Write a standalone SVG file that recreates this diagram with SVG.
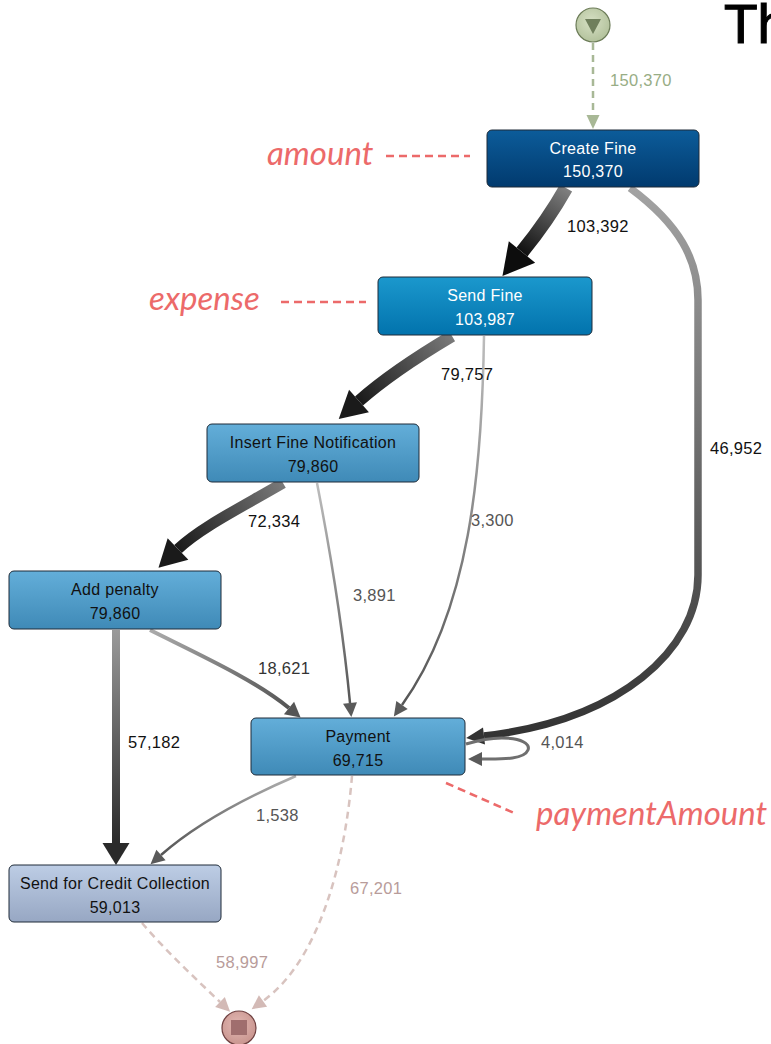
<svg xmlns="http://www.w3.org/2000/svg" width="771" height="1044" viewBox="0 0 771 1044">
<style>
.node rect{stroke:#1e2b38;stroke-width:1}
.nt{font-family:"Liberation Sans",Arial,sans-serif;font-size:16px;letter-spacing:0.3px;text-anchor:middle}
.w{fill:#ffffff}
.d{fill:#111111}
.lbl{font-family:"Liberation Sans",Arial,sans-serif;font-size:16.5px;letter-spacing:0.3px}
.ann{font-family:Lato,"Open Sans",sans-serif;font-style:italic;font-size:33px;fill:#ec6a6a}
.annl{stroke:#ec6a6a;stroke-width:2.5;stroke-dasharray:8,5;fill:none}
.e{fill:none}
</style>
<defs>
<linearGradient id="nCreate" x1="0" y1="0" x2="0" y2="1"><stop offset="0" stop-color="#0c5c9a"/><stop offset="1" stop-color="#013a6e"/></linearGradient>
<linearGradient id="nSend" x1="0" y1="0" x2="0" y2="1"><stop offset="0" stop-color="#1b98cd"/><stop offset="1" stop-color="#0273ad"/></linearGradient>
<linearGradient id="nMid" x1="0" y1="0" x2="0" y2="1"><stop offset="0" stop-color="#63aed9"/><stop offset="1" stop-color="#3f8ab7"/></linearGradient>
<linearGradient id="nCredit" x1="0" y1="0" x2="0" y2="1"><stop offset="0" stop-color="#bdcde5"/><stop offset="1" stop-color="#97a7c3"/></linearGradient>
<radialGradient id="gStart" cx="0.45" cy="0.4" r="0.6"><stop offset="0" stop-color="#d6e0c4"/><stop offset="1" stop-color="#b3c29c"/></radialGradient>
<radialGradient id="gEnd" cx="0.45" cy="0.4" r="0.6"><stop offset="0" stop-color="#e2b8b3"/><stop offset="1" stop-color="#c9958f"/></radialGradient>
<linearGradient id="g1" gradientUnits="userSpaceOnUse" x1="566" y1="188" x2="522" y2="252"><stop offset="0" stop-color="#808080"/><stop offset="1" stop-color="#111111"/></linearGradient>
<linearGradient id="g3" gradientUnits="userSpaceOnUse" x1="452" y1="336" x2="359" y2="401"><stop offset="0" stop-color="#7a7a7a"/><stop offset="1" stop-color="#1a1a1a"/></linearGradient>
<linearGradient id="g5" gradientUnits="userSpaceOnUse" x1="283" y1="483" x2="178" y2="549"><stop offset="0" stop-color="#7a7a7a"/><stop offset="1" stop-color="#1a1a1a"/></linearGradient>
<linearGradient id="g8" gradientUnits="userSpaceOnUse" x1="116" y1="630" x2="116" y2="843"><stop offset="0" stop-color="#9a9a9a"/><stop offset="1" stop-color="#2a2a2a"/></linearGradient>
<linearGradient id="g2" gradientUnits="userSpaceOnUse" x1="0" y1="188" x2="0" y2="736"><stop offset="0" stop-color="#a3a3a3"/><stop offset="1" stop-color="#333333"/></linearGradient>
<linearGradient id="g7" gradientUnits="userSpaceOnUse" x1="150" y1="630" x2="289" y2="708"><stop offset="0" stop-color="#ababab"/><stop offset="1" stop-color="#555555"/></linearGradient>
<linearGradient id="g4" gradientUnits="userSpaceOnUse" x1="0" y1="336" x2="0" y2="705"><stop offset="0" stop-color="#bdbdbd"/><stop offset="1" stop-color="#555555"/></linearGradient>
<linearGradient id="g6" gradientUnits="userSpaceOnUse" x1="0" y1="483" x2="0" y2="703"><stop offset="0" stop-color="#bdbdbd"/><stop offset="1" stop-color="#555555"/></linearGradient>
<linearGradient id="g10" gradientUnits="userSpaceOnUse" x1="296" y1="776" x2="161" y2="855"><stop offset="0" stop-color="#b0b0b0"/><stop offset="1" stop-color="#555555"/></linearGradient>
<marker id="mB1" markerUnits="userSpaceOnUse" markerWidth="31" markerHeight="34" refX="0" refY="17" orient="auto" overflow="visible"><path d="M0,0 L31,17 L0,34 z" fill="#0d0d0d"/></marker>
<marker id="mB2" markerUnits="userSpaceOnUse" markerWidth="27" markerHeight="30" refX="0" refY="15" orient="auto" overflow="visible"><path d="M0,0 L27,15 L0,30 z" fill="#1a1a1a"/></marker>
<marker id="mB3" markerUnits="userSpaceOnUse" markerWidth="22" markerHeight="27" refX="0" refY="13.5" orient="auto" overflow="visible"><path d="M0,0 L22,13.5 L0,27 z" fill="#2a2a2a"/></marker>
<marker id="mM" markerUnits="userSpaceOnUse" markerWidth="18" markerHeight="17" refX="0" refY="8.5" orient="auto" overflow="visible"><path d="M0,0 L18,8.5 L0,17 z" fill="#333333"/></marker>
<marker id="mM2" markerUnits="userSpaceOnUse" markerWidth="15" markerHeight="16" refX="0" refY="8" orient="auto" overflow="visible"><path d="M0,0 L15,8 L0,16 z" fill="#555555"/></marker>
<marker id="mS" markerUnits="userSpaceOnUse" markerWidth="14" markerHeight="14" refX="0" refY="7" orient="auto" overflow="visible"><path d="M0,0 L14,7 L0,14 z" fill="#5a5a5a"/></marker>
<marker id="mG" markerUnits="userSpaceOnUse" markerWidth="14" markerHeight="13" refX="0" refY="6.5" orient="auto" overflow="visible"><path d="M0,0 L14,6.5 L0,13 z" fill="#a8b896"/></marker>
<marker id="mP" markerUnits="userSpaceOnUse" markerWidth="14" markerHeight="14" refX="0" refY="7" orient="auto" overflow="visible"><path d="M0,0 L14,7 L0,14 z" fill="#d3bab6"/></marker>
</defs>
<rect width="771" height="1044" fill="#ffffff"/>
<text x="724" y="43" font-family="Liberation Sans,Arial,sans-serif" font-size="55" fill="#000000" stroke="#000000" stroke-width="1.2">Th</text>
<g id="connectors">
<path class="e" d="M593,43 L593,115" stroke="#a8b896" stroke-width="2.5" stroke-dasharray="7,5" marker-end="url(#mG)"/>
<path class="e" d="M566,188 Q548,220 522,252" stroke="url(#g1)" stroke-width="14" marker-end="url(#mB1)"/>
<path class="e" d="M630,188 C680,225 698,260 698,300 L698,575 C698,650 620,720 484,736" stroke="url(#g2)" stroke-width="7.5" marker-end="url(#mM)"/>
<path class="e" d="M452,336 C420,355 385,378 359,401" stroke="url(#g3)" stroke-width="12" marker-end="url(#mB2)"/>
<path class="e" d="M484,336 C482,470 470,610 402,705" stroke="url(#g4)" stroke-width="2.5" marker-end="url(#mS)"/>
<path class="e" d="M283,483 C240,508 200,528 178,549" stroke="url(#g5)" stroke-width="11" marker-end="url(#mB2)"/>
<path class="e" d="M317,483 C332,560 344,640 350,703" stroke="url(#g6)" stroke-width="2.5" marker-end="url(#mS)"/>
<path class="e" d="M150,630 C200,655 255,680 289,708" stroke="url(#g7)" stroke-width="4" marker-end="url(#mM2)"/>
<path class="e" d="M116,630 L116,843" stroke="url(#g8)" stroke-width="8" marker-end="url(#mB3)"/>
<path class="e" d="M466,744 C505,732 532,740 528,750 C524,760 500,759 482,759" stroke="#6f6f6f" stroke-width="3" marker-end="url(#mS)"/>
<path class="e" d="M296,776 C240,800 195,825 161,855" stroke="url(#g10)" stroke-width="2.5" marker-end="url(#mS)"/>
<path class="e" d="M352,776 C345,860 320,960 263,1001" stroke="#d8c3bf" stroke-width="2.5" stroke-dasharray="7,5" marker-end="url(#mP)"/>
<path class="e" d="M142,923 C165,950 195,978 220,1002" stroke="#d8c3bf" stroke-width="2.5" stroke-dasharray="7,5" marker-end="url(#mP)"/>
<text class="lbl" x="610" y="86" fill="#98ad85">150,370</text>
<text class="lbl" x="567" y="232" fill="#111111">103,392</text>
<text class="lbl" x="710" y="454" fill="#111111">46,952</text>
<text class="lbl" x="441" y="380" fill="#111111">79,757</text>
<text class="lbl" x="471" y="526" fill="#555555">3,300</text>
<text class="lbl" x="248" y="527" fill="#111111">72,334</text>
<text class="lbl" x="353" y="601" fill="#555555">3,891</text>
<text class="lbl" x="258" y="674" fill="#333333">18,621</text>
<text class="lbl" x="128" y="748" fill="#111111">57,182</text>
<text class="lbl" x="541" y="748" fill="#555555">4,014</text>
<text class="lbl" x="256" y="821" fill="#555555">1,538</text>
<text class="lbl" x="350" y="894" fill="#b89c9a">67,201</text>
<text class="lbl" x="216" y="968" fill="#b89c9a">58,997</text>
</g>
<g id="start">
<circle cx="593" cy="25" r="17" fill="url(#gStart)" stroke="#6b7b57" stroke-width="1.2"/>
<path d="M585,19 L601,19 L593,34 z" fill="#6f7f5c"/>
</g>
<g id="end">
<circle cx="239" cy="1028" r="17" fill="url(#gEnd)" stroke="#6e4040" stroke-width="1.2"/>
<rect x="231" y="1020" width="16" height="15" fill="#a06e6e"/>
</g>
<g id="n-create" class="node">
<rect x="487" y="130" width="212" height="57" rx="5" fill="url(#nCreate)"/>
<text class="nt w" x="593" y="154">Create Fine</text>
<text class="nt w" x="593" y="177">150,370</text>
</g>
<g id="n-send" class="node">
<rect x="378" y="277" width="214" height="58" rx="5" fill="url(#nSend)"/>
<text class="nt w" x="485" y="301">Send Fine</text>
<text class="nt w" x="485" y="325">103,987</text>
</g>
<g id="n-insert" class="node">
<rect x="207" y="424" width="212" height="58" rx="5" fill="url(#nMid)"/>
<text class="nt d" x="313" y="448">Insert Fine Notification</text>
<text class="nt d" x="313" y="472">79,860</text>
</g>
<g id="n-penalty" class="node">
<rect x="9" y="571" width="212" height="58" rx="5" fill="url(#nMid)"/>
<text class="nt d" x="115" y="595">Add penalty</text>
<text class="nt d" x="115" y="619">79,860</text>
</g>
<g id="n-payment" class="node">
<rect x="251" y="718" width="214" height="57" rx="5" fill="url(#nMid)"/>
<text class="nt d" x="358" y="742">Payment</text>
<text class="nt d" x="358" y="766">69,715</text>
</g>
<g id="n-credit" class="node">
<rect x="9" y="865" width="212" height="57" rx="5" fill="url(#nCredit)"/>
<text class="nt d" x="115" y="889">Send for Credit Collection</text>
<text class="nt d" x="115" y="913">59,013</text>
</g>
<g id="annotations">
<text class="ann" x="267" y="165">amount</text>
<path class="annl" d="M386,156 L470,156"/>
<text class="ann" x="149" y="310">expense</text>
<path class="annl" d="M281,302 L366,302"/>
<text class="ann" x="536" y="825">paymentAmount</text>
<path class="annl" d="M446,783 L514,813"/>
</g>
</svg>
